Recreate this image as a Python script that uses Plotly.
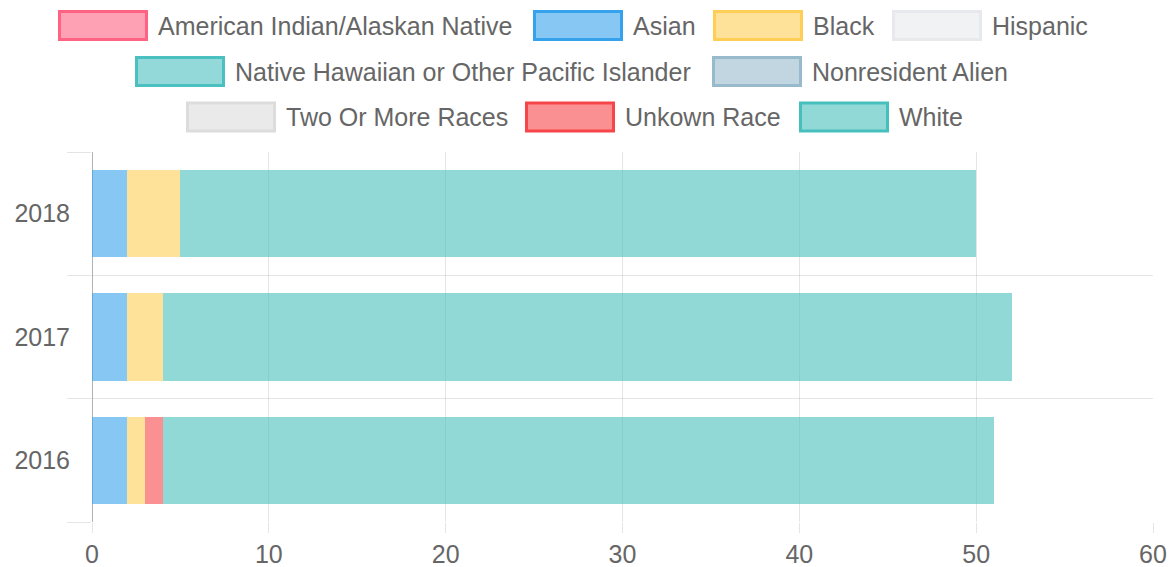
import plotly.graph_objects as go

years = ["2016", "2017", "2018"]
series_names = [
    "American Indian/Alaskan Native", "Asian", "Black", "Hispanic",
    "Native Hawaiian or Other Pacific Islander", "Nonresident Alien",
    "Two Or More Races", "Unkown Race", "White",
]
american_indian = [0, 0, 0]
asian = [2, 2, 2]
black = [1, 2, 3]
hispanic = [0, 0, 0]
native_hawaiian = [0, 0, 0]
nonresident = [0, 0, 0]
two_or_more = [0, 0, 0]
unknown = [1, 0, 0]
white = [47, 48, 45]
series_values = [american_indian, asian, black, hispanic, native_hawaiian,
                 nonresident, two_or_more, unknown, white]
x_ticks = [0, 10, 20, 30, 40, 50, 60]

border_rgb = [(255, 99, 132), (54, 162, 235), (255, 206, 86), (231, 233, 237),
              (75, 192, 192), (151, 187, 205), (220, 220, 220), (247, 70, 74),
              (70, 191, 189)]

def rgba(c, a):
    return f"rgba({c[0]},{c[1]},{c[2]},{a})"

FONT = "Liberation Sans, Arial, sans-serif"
TXT = "#666666"

fig = go.Figure()
for name, vals, c in zip(series_names, series_values, border_rgb):
    fig.add_trace(go.Bar(
        y=years, x=vals, name=name, orientation="h",
        marker=dict(color=rgba(c, 0.6), line=dict(width=0)),
        showlegend=False,
    ))

# Custom legend (Chart.js style wide boxes): (box left x px, row centre y px)
legend_pos = [
    (58, 25.5), (533, 25.5), (713, 25.5), (892, 25.5),
    (135, 71.5), (712, 71.5),
    (186, 117), (525, 117), (799, 117),
]
W, H = 1173, 567
ml, mr, mt, mb = 92, 20, 152, 45
pw, ph = W - ml - mr, H - mt - mb

def px_x(x):
    return (x - ml) / pw

def px_y(y):
    return 1 - (y - mt) / ph

shapes = []
annotations = []
for (bx, cy), name, c in zip(legend_pos, series_names, border_rgb):
    shapes.append(dict(
        type="rect", xref="paper", yref="paper",
        x0=px_x(bx + 1.5), x1=px_x(bx + 88.5),
        y0=px_y(cy + 14), y1=px_y(cy - 14),
        fillcolor=rgba(c, 0.6), line=dict(color=rgba(c, 1), width=3),
        layer="above",
    ))
    annotations.append(dict(
        xref="paper", yref="paper", x=px_x(bx + 97.5), y=px_y(cy),
        xanchor="left", yanchor="middle", text=name, showarrow=False,
        font=dict(family=FONT, size=25, color=TXT),
    ))

fig.update_layout(
    width=W, height=H,
    margin=dict(l=ml, r=mr, t=mt, b=mb, autoexpand=False),
    barmode="stack", bargap=0.29,
    paper_bgcolor="white", plot_bgcolor="white",
    font=dict(family=FONT, size=25, color=TXT),
    shapes=shapes, annotations=annotations,
    xaxis=dict(
        range=[0, 60], tickvals=x_ticks, showgrid=True, automargin=False,
        gridcolor="rgba(0,0,0,0.1)", gridwidth=1,
        zeroline=True, zerolinecolor="rgba(0,0,0,0.3)", zerolinewidth=1,
        ticks="outside", ticklen=10, tickcolor="rgba(0,0,0,0.1)",
        tickfont=dict(family=FONT, size=25, color=TXT),
        showline=False, fixedrange=True,
    ),
    yaxis=dict(
        type="category", categoryorder="array", categoryarray=years,
        range=[-0.5, 2.5], tickson="boundaries", showgrid=True,
        automargin=False,
        gridcolor="rgba(0,0,0,0.1)", gridwidth=1,
        ticks="outside", ticklen=24, tickcolor="rgba(0,0,0,0.1)",
        ticklabelstandoff=21,
        tickfont=dict(family=FONT, size=25, color=TXT),
        showline=False, zeroline=False, fixedrange=True,
    ),
)

fig.write_html("out.html",
               config={"displayModeBar": False},
               post_script="document.body.style.margin='0';document.body.style.overflow='hidden';")
